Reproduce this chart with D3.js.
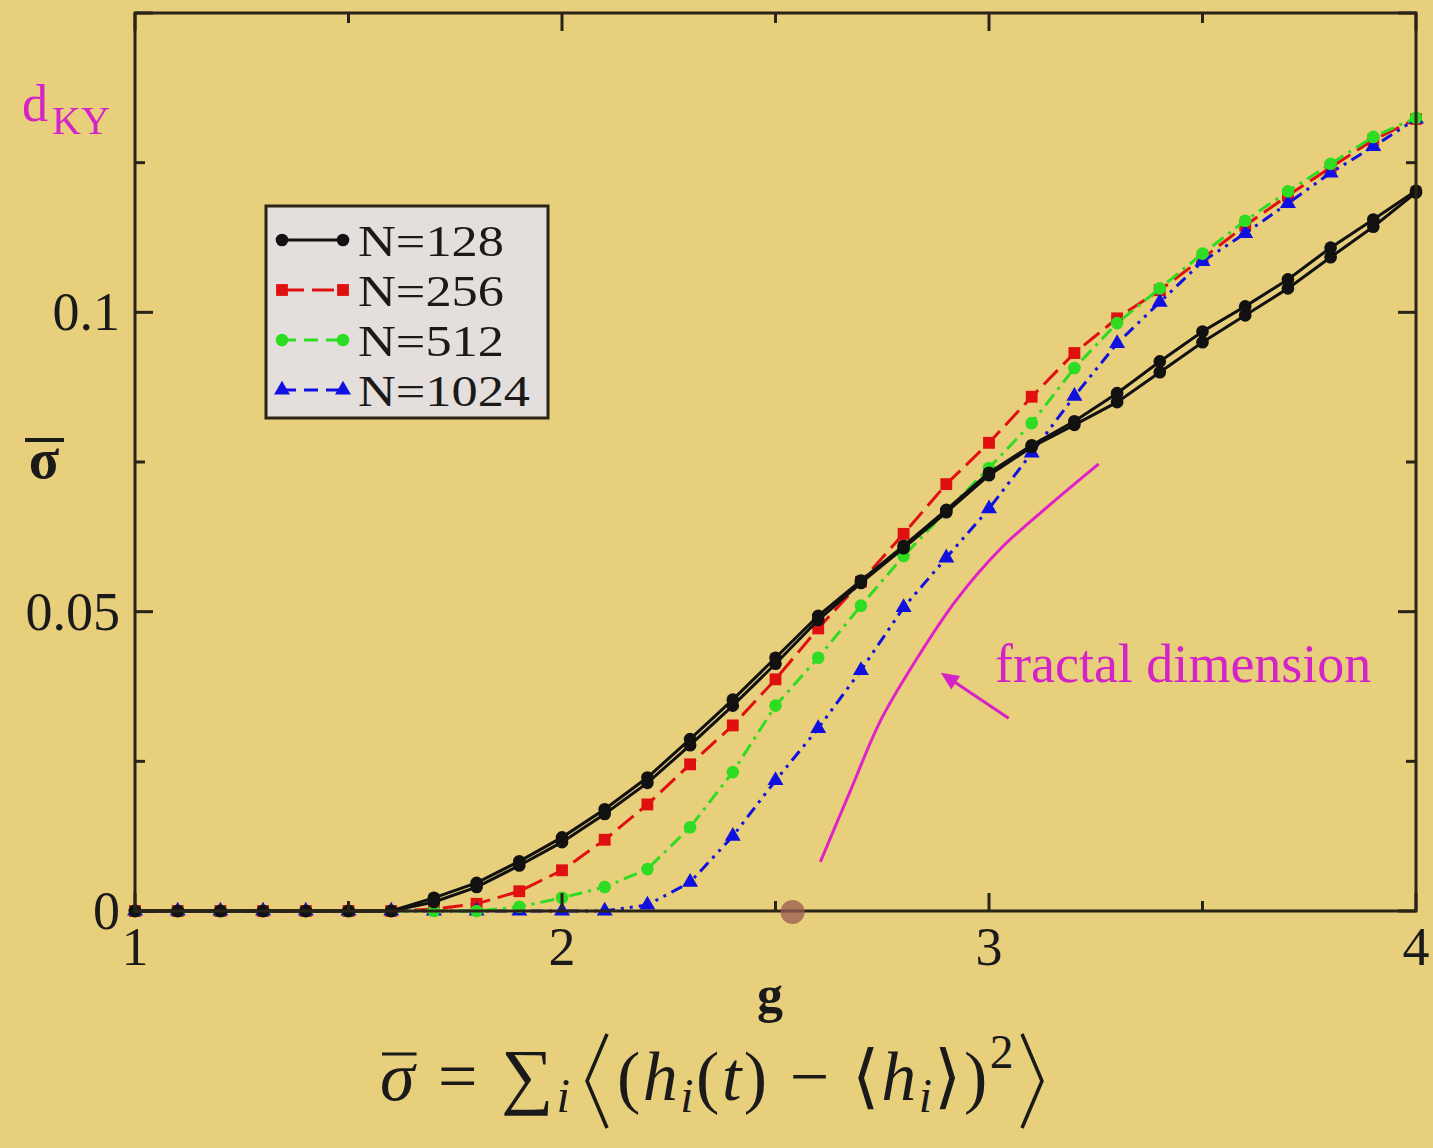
<!DOCTYPE html>
<html><head><meta charset="utf-8">
<script src="https://cdn.jsdelivr.net/npm/d3@7"></script>
<style>
html,body{margin:0;padding:0;background:#E8CF7C;}
svg{display:block;}
</style></head>
<body>
<svg id="chart" width="1433" height="1148"></svg>
<script>
// ---- data ----
const gValues = [1.0,1.1,1.2,1.3,1.4,1.5,1.6,1.7,1.8,1.9,2.0,2.1,2.2,2.3,2.4,2.5,2.6,2.7,2.8,2.9,3.0,3.1,3.2,3.3,3.4,3.5,3.6,3.7,3.8,3.9,4.0];
const n128a = [0,0,0,0,0,0,0,0.0022,0.0047,0.0083,0.0123,0.0170,0.0223,0.0287,0.0353,0.0423,0.0493,0.0552,0.0610,0.0670,0.0732,0.0778,0.0818,0.0865,0.0918,0.0968,0.1010,0.1055,0.1108,0.1155,0.1203];
const n128b = [0,0,0,0,0,0,0,0.0015,0.0040,0.0076,0.0115,0.0162,0.0214,0.0277,0.0343,0.0413,0.0486,0.0548,0.0606,0.0666,0.0728,0.0775,0.0812,0.0850,0.0900,0.0950,0.0995,0.1040,0.1092,0.1143,0.1200];
const n256 = [0,0,0,0,0,0,0,0.0003,0.0012,0.0033,0.0068,0.0119,0.0178,0.0245,0.0310,0.0387,0.0472,0.0550,0.0630,0.0713,0.0782,0.0859,0.0932,0.0990,0.1037,0.1090,0.1145,0.1195,0.1242,0.1288,0.1323];
const n512 = [0,0,0,0,0,0,0,0,0,0.0007,0.0022,0.0040,0.0070,0.0140,0.0232,0.0343,0.0423,0.0510,0.0593,0.0668,0.0740,0.0815,0.0907,0.0982,0.1040,0.1098,0.1153,0.1202,0.1248,0.1293,0.1325];
const n1024 = [0,0,0,0,0,0,0,0,0,0,0,0,0.0010,0.0048,0.0125,0.0218,0.0305,0.0402,0.0507,0.0590,0.0672,0.0765,0.0860,0.0948,0.1017,0.1085,0.1132,0.1182,0.1233,0.1277,0.1323];
const legendLabels = ["N=128","N=256","N=512","N=1024"];
const xTickValues = [1,2,3,4];
const yTickValues = [0,0.05,0.1];
const yTickLabels = ["0","0.05","0.1"];
// fractal dimension guide curve (data coords)
const fdG = [2.605,2.676,2.746,2.828,2.922,3.027,3.145,3.257];
const fdY = [0.0082,0.0202,0.0318,0.0418,0.0518,0.0605,0.0680,0.0747];
const arrowFrom = [3.046,0.0322], arrowTo = [2.887,0.0398];

// ---- setup ----
const svg = d3.select("#chart");
const W = 1433, H = 1148;
const x = d3.scaleLinear().domain([1,4]).range([135,1416]);
const y = d3.scaleLinear().domain([0,0.15]).range([911,13]);
const serif = "'Liberation Serif','Times New Roman',serif";
const ink = "#1a1a1a";
const magenta = "#D424C8";

svg.append("rect").attr("width",W).attr("height",H).attr("fill","#E8CF7C");

const series = [
  {vals:n256, color:"#E01010", dash:"20,8", marker:"square"},
  {vals:n1024, color:"#1010E0", dash:"12,6,3,6,3,6", marker:"triangle"},
  {vals:n512, color:"#2EDD22", dash:"14,6,3,6", marker:"circle"},
  {vals:n128b, color:"#111111", dash:null, marker:"circle"},
  {vals:n128a, color:"#111111", dash:null, marker:"circle"}
];

const line = d3.line().x(d=>x(d[0])).y(d=>y(d[1]));
const sym = {
  circle: d3.symbol().type(d3.symbolCircle).size(125),
  square: d3.symbol().type(d3.symbolSquare).size(140),
  triangle: d3.symbol().type(d3.symbolTriangle).size(110)
};

const plot = svg.append("g");
series.forEach(s=>{
  const pts = gValues.map((g,i)=>[g,s.vals[i]]);
  plot.append("path").datum(pts).attr("d",line)
    .attr("fill","none").attr("stroke",s.color).attr("stroke-width",3)
    .attr("stroke-dasharray",s.dash);
  plot.selectAll(null).data(pts).enter().append("path")
    .attr("d",sym[s.marker])
    .attr("transform",d=>`translate(${x(d[0])},${y(d[1])})`)
    .attr("fill",s.color);
});

// ---- frame & ticks ----
const fr = svg.append("g").attr("stroke","#2a2418").attr("fill","none");
fr.append("rect").attr("x",x(1)).attr("y",y(0.15)).attr("width",x(4)-x(1)).attr("height",y(0)-y(0.15)).attr("stroke-width",3);
const xMajor = [1,2,3,4], xMinor = [1.5,2.5,3.5];
const yMajor = [0,0.05,0.1,0.15], yMinor = [0.025,0.075,0.125];
xMajor.forEach(v=>{
  fr.append("line").attr("x1",x(v)).attr("x2",x(v)).attr("y1",y(0)).attr("y2",y(0)-18).attr("stroke-width",3);
  fr.append("line").attr("x1",x(v)).attr("x2",x(v)).attr("y1",y(0.15)).attr("y2",y(0.15)+18).attr("stroke-width",3);
});
xMinor.forEach(v=>{
  fr.append("line").attr("x1",x(v)).attr("x2",x(v)).attr("y1",y(0)).attr("y2",y(0)-10).attr("stroke-width",3);
  fr.append("line").attr("x1",x(v)).attr("x2",x(v)).attr("y1",y(0.15)).attr("y2",y(0.15)+10).attr("stroke-width",3);
});
yMajor.forEach(v=>{
  fr.append("line").attr("x1",x(1)).attr("x2",x(1)+18).attr("y1",y(v)).attr("y2",y(v)).attr("stroke-width",3);
  fr.append("line").attr("x1",x(4)).attr("x2",x(4)-18).attr("y1",y(v)).attr("y2",y(v)).attr("stroke-width",3);
});
yMinor.forEach(v=>{
  fr.append("line").attr("x1",x(1)).attr("x2",x(1)+10).attr("y1",y(v)).attr("y2",y(v)).attr("stroke-width",3);
  fr.append("line").attr("x1",x(4)).attr("x2",x(4)-10).attr("y1",y(v)).attr("y2",y(v)).attr("stroke-width",3);
});

// tick labels
const tl = svg.append("g").attr("font-family",serif).attr("font-size",54).attr("fill",ink);
xTickValues.forEach(v=>{
  tl.append("text").attr("x",x(v)).attr("y",965).attr("text-anchor","middle").text(v);
});
yTickValues.forEach((v,i)=>{
  tl.append("text").attr("x",120).attr("y",y(v)+18).attr("text-anchor","end").text(yTickLabels[i]);
});

// axis labels
svg.append("text").attr("x",770).attr("y",1012).attr("text-anchor","middle")
  .attr("font-family",serif).attr("font-size",52).attr("font-weight","bold").attr("fill",ink).text("g");
svg.append("text").attr("x",44).attr("y",478).attr("text-anchor","middle")
  .attr("font-family",serif).attr("font-size",56).attr("font-weight","bold").attr("fill",ink).text("σ");
svg.append("line").attr("x1",25).attr("x2",64).attr("y1",440).attr("y2",440).attr("stroke",ink).attr("stroke-width",4);

// d_KY
const dky = svg.append("text").attr("font-family",serif).attr("fill",magenta);
dky.append("tspan").attr("x",22).attr("y",121).attr("font-size",52).text("d");
dky.append("tspan").attr("x",52).attr("y",134).attr("font-size",40).text("KY");

// fractal dimension curve
const fdPts = fdG.map((g,i)=>[g,fdY[i]]);
svg.append("path").datum(fdPts).attr("d",d3.line().x(d=>x(d[0])).y(d=>y(d[1])).curve(d3.curveCatmullRom))
  .attr("fill","none").attr("stroke","#E020C8").attr("stroke-width",3);
// arrow
const ax1=x(arrowFrom[0]), ay1=y(arrowFrom[1]), ax2=x(arrowTo[0]), ay2=y(arrowTo[1]);
svg.append("line").attr("x1",ax1).attr("y1",ay1).attr("x2",ax2+6).attr("y2",ay2+4)
  .attr("stroke",magenta).attr("stroke-width",3);
const ang = Math.atan2(ay2-ay1, ax2-ax1);
const ah = 18, aw = 8;
const p1 = [ax2 - ah*Math.cos(ang) + aw*Math.sin(ang), ay2 - ah*Math.sin(ang) - aw*Math.cos(ang)];
const p2 = [ax2 - ah*Math.cos(ang) - aw*Math.sin(ang), ay2 - ah*Math.sin(ang) + aw*Math.cos(ang)];
svg.append("path").attr("d",`M${ax2},${ay2}L${p1[0]},${p1[1]}L${p2[0]},${p2[1]}Z`).attr("fill",magenta);
svg.append("text").attr("x",995).attr("y",682).attr("font-family",serif).attr("font-size",54)
  .attr("fill",magenta).text("fractal dimension");

// cursor dot
svg.append("circle").attr("cx",x(2.54)).attr("cy",y(0)+1).attr("r",12).attr("fill","#9a5a50").attr("opacity",0.75);

// ---- legend ----
const lg = svg.append("g");
lg.append("rect").attr("x",266).attr("y",206).attr("width",282).attr("height",212)
  .attr("fill","#E4DFDC").attr("stroke","#2a2418").attr("stroke-width",3);
const legSeries = [
  {color:"#111111",dash:null,marker:"circle"},
  {color:"#E01010",dash:"22,8",marker:"square"},
  {color:"#2EDD22",dash:"14,8",marker:"circle"},
  {color:"#1010E0",dash:"14,8",marker:"triangle"}
];
const legW = [146,146,146,172];
legendLabels.forEach((lab,i)=>{
  const cy = 240 + i*50;
  const s = legSeries[i];
  lg.append("line").attr("x1",282).attr("x2",343).attr("y1",cy).attr("y2",cy)
    .attr("stroke",s.color).attr("stroke-width",3).attr("stroke-dasharray",s.dash);
  [282,343].forEach(px=>{
    lg.append("path").attr("d",sym[s.marker]).attr("transform",`translate(${px},${cy})`).attr("fill",s.color);
  });
  lg.append("text").attr("x",358).attr("y",cy+16).attr("font-family",serif).attr("font-size",44)
    .attr("textLength",legW[i]).attr("lengthAdjust","spacingAndGlyphs")
    .attr("fill",ink).text(lab);
});

// ---- formula ----
const fy = 1100, fs = 70;
const f = svg.append("g").attr("font-family",serif).attr("fill",ink);
const partA = f.append("text").attr("x",380).attr("y",fy).attr("font-size",fs).attr("letter-spacing",3);
partA.append("tspan").attr("font-style","italic").text("σ");
partA.append("tspan").text(" = ");
partA.append("tspan").attr("font-size",fs*1.05).text("∑");
partA.append("tspan").attr("font-style","italic").attr("font-size",fs*0.7).attr("dy",12).text("i");
const sigmaW = partA.select("tspan").node().getComputedTextLength();
f.append("line").attr("x1",382).attr("x2",380+sigmaW-1).attr("y1",fy-46).attr("y2",fy-46).attr("stroke",ink).attr("stroke-width",3);
const bbA = partA.node().getBBox();
const endA = bbA.x + bbA.width;
// left big angle bracket
const bTop = 1034, bBot = 1128;
const lbx = endA + 14;
f.append("path").attr("d",`M${lbx+20},${bTop}L${lbx},${(bTop+bBot)/2}L${lbx+20},${bBot}`)
  .attr("fill","none").attr("stroke",ink).attr("stroke-width",3.5);
const partB = f.append("text").attr("x",lbx+30).attr("y",fy).attr("font-size",fs).attr("letter-spacing",2.5);
partB.append("tspan").text("(");
partB.append("tspan").attr("font-style","italic").text("h");
partB.append("tspan").attr("font-style","italic").attr("font-size",fs*0.68).attr("dy",12).text("i");
partB.append("tspan").attr("dy",-12).text("(");
partB.append("tspan").attr("font-style","italic").text("t");
partB.append("tspan").text(") − ⟨");
partB.append("tspan").attr("font-style","italic").text("h");
partB.append("tspan").attr("font-style","italic").attr("font-size",fs*0.68).attr("dy",12).text("i");
partB.append("tspan").attr("dy",-12).text("⟩)");
partB.append("tspan").attr("font-size",fs*0.68).attr("dy",-32).text("2");
const bbB = partB.node().getBBox();
const rbx = bbB.x + bbB.width + 6;
f.append("path").attr("d",`M${rbx},${bTop}L${rbx+20},${(bTop+bBot)/2}L${rbx},${bBot}`)
  .attr("fill","none").attr("stroke",ink).attr("stroke-width",3.5);
</script>
</body></html>
